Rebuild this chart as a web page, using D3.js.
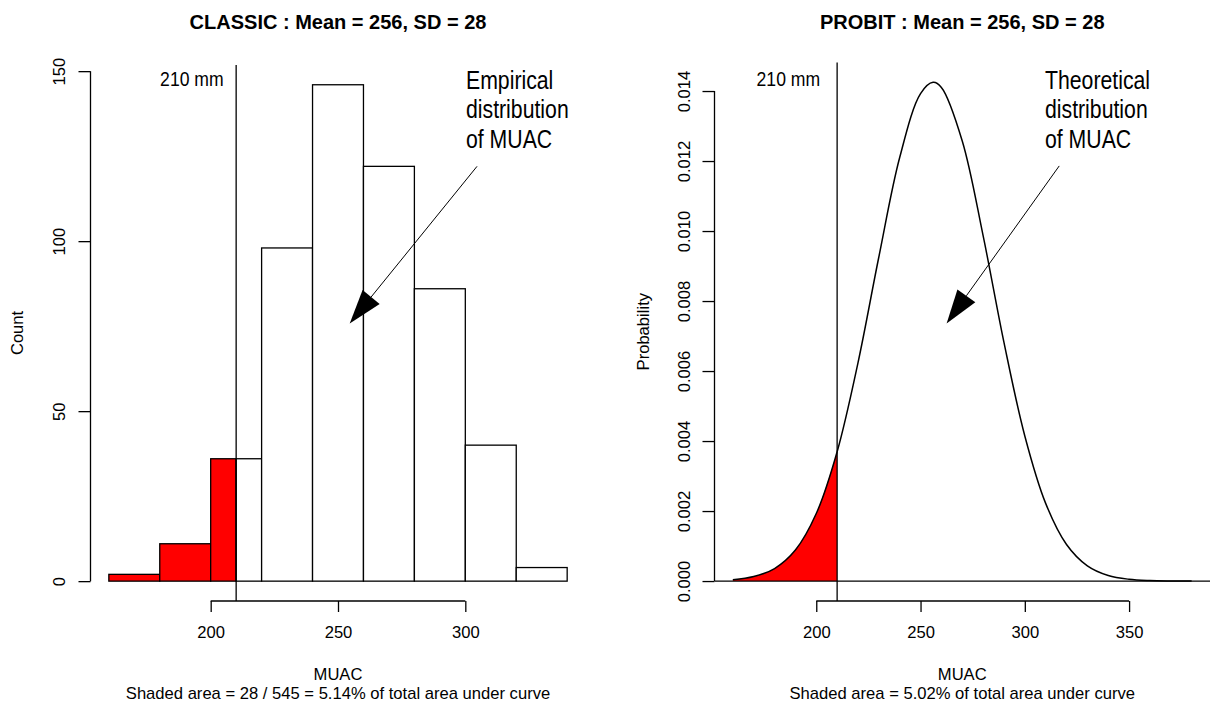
<!DOCTYPE html>
<html><head><meta charset="utf-8">
<script src="https://cdn.jsdelivr.net/npm/d3@7/dist/d3.min.js"></script>
<style>
body{margin:0;background:#fff}
svg text{font-family:"Liberation Sans", Arial, Helvetica, sans-serif; fill:#000}
</style></head><body>
<svg id="chart" width="1211" height="704"></svg>
<script>
// ---------- data ----------
const binEdges  = [160, 180, 200, 220, 240, 260, 280, 300, 320, 340];
const binCounts = [2, 11, 36, 98, 146, 122, 86, 40, 4];
const cutoff = 210;
const countTicks = [0, 50, 100, 150];
const muacTicksLeft = [200, 250, 300];

const densityX = [160, 170, 180, 190, 200, 210, 220, 230, 240, 250, 256, 260, 270, 280, 290, 300, 310, 320, 330, 340, 350, 360, 370, 380];
const densityY = [0.0000399, 0.0001274, 0.000358, 0.000886, 0.001928, 0.003695, 0.006235, 0.009258, 0.012102, 0.013925, 0.014248, 0.014103, 0.012574, 0.009868, 0.006817, 0.004145, 0.002219, 0.001045, 0.000434, 0.000158, 0.0000509, 0.0000144, 0.0000036, 0.0000008];
const probTicks = [0, 0.002, 0.004, 0.006, 0.008, 0.010, 0.012, 0.014];
const muacTicksRight = [200, 250, 300, 350];

const titles = ["CLASSIC : Mean = 256, SD = 28", "PROBIT : Mean = 256, SD = 28"];
const xLabel = "MUAC";
const yLabels = ["Count", "Probability"];
const subs = ["Shaded area = 28 / 545 = 5.14% of total area under curve", "Shaded area = 5.02% of total area under curve"];
const cutLabel = "210 mm";
const noteLines = [["Empirical", "distribution", "of MUAC"], ["Theoretical", "distribution", "of MUAC"]];

// ---------- layout ----------
const svg = d3.select("#chart");
const FS = 16.6;
const LW = 1.3;

function panel(cfg) {
  const g = svg.append("g");
  const x = d3.scaleLinear().domain(cfg.xDom).range([cfg.left, cfg.right]);
  const y = d3.scaleLinear().domain(cfg.yDom).range([cfg.bottom, cfg.top]);
  const cx = (cfg.left + cfg.right) / 2, cy = (cfg.top + cfg.bottom) / 2;

  cfg.draw(g, x, y);

  // cutoff vertical line
  g.append("line").attr("x1", x(cutoff)).attr("x2", x(cutoff))
    .attr("y1", cfg.top).attr("y2", cfg.bottom)
    .attr("stroke", "#000").attr("stroke-width", LW);

  // x axis
  const xa = g.append("g").attr("transform", `translate(0,${cfg.bottom})`)
    .call(d3.axisBottom(x).tickValues(cfg.xTicks).tickSize(11).tickSizeOuter(0).tickPadding(12));
  xa.select(".domain").remove();
  xa.selectAll(".tick line").attr("stroke-width", LW);
  xa.selectAll(".tick text").attr("font-size", FS).attr("dy", null).attr("y", 37)
    .style("font-family", '"Liberation Sans", Arial, sans-serif');
  xa.append("line").attr("x1", x(cfg.xTicks[0])).attr("x2", x(cfg.xTicks[cfg.xTicks.length - 1]))
    .attr("stroke", "#000").attr("stroke-width", LW);

  // y axis
  const ya = g.append("g").attr("transform", `translate(${cfg.left},0)`)
    .call(d3.axisLeft(y).tickValues(cfg.yTicks).tickSize(12).tickSizeOuter(0).tickFormat(cfg.yFmt));
  ya.select(".domain").remove();
  ya.selectAll(".tick line").attr("stroke-width", LW);
  ya.selectAll(".tick text").attr("font-size", FS).attr("x", 0).attr("dy", null)
    .attr("text-anchor", "middle").attr("dominant-baseline", "central")
    .attr("transform", `translate(${-cfg.yLabOff},0) rotate(-90)`)
    .style("font-family", '"Liberation Sans", Arial, sans-serif');
  ya.append("line").attr("y1", y(cfg.yTicks[0])).attr("y2", y(cfg.yTicks[cfg.yTicks.length - 1]))
    .attr("stroke", "#000").attr("stroke-width", LW);

  // title
  g.append("text").attr("x", cx).attr("y", 29).attr("text-anchor", "middle")
    .attr("font-size", 20).attr("font-weight", "bold").text(cfg.title);
  // x label & sub
  g.append("text").attr("x", cx).attr("y", 680).attr("text-anchor", "middle")
    .attr("font-size", FS).text(xLabel);
  g.append("text").attr("x", cx).attr("y", 699).attr("text-anchor", "middle")
    .attr("font-size", FS).text(cfg.sub);
  // y label
  g.append("text").attr("transform", `translate(${cfg.left - cfg.yTitleOff},${cy}) rotate(-90)`)
    .attr("text-anchor", "middle").attr("dominant-baseline", "central")
    .attr("font-size", FS).text(cfg.yLabel);

  // 210 mm label (condensed)
  g.append("text").attr("transform", `translate(${x(cutoff) - cfg.cutLabOff},86) scale(0.88,1)`)
    .attr("text-anchor", "end").attr("font-size", 20).text(cutLabel);

  // note text (condensed)
  const nt = g.append("text").attr("font-size", 25)
    .attr("transform", `translate(${cfg.noteX},0) scale(0.85,1)`);
  cfg.note.forEach((s, i) => {
    nt.append("tspan").attr("x", 0).attr("y", 89 + i * 29.5).text(s);
  });

  // arrow
  const x0 = x(cfg.arrow[0]), y0 = y(cfg.arrow[1]), x1 = x(cfg.arrow[2]), y1 = y(cfg.arrow[3]);
  const dx = x1 - x0, dy = y1 - y0, L = Math.hypot(dx, dy);
  const ux = dx / L, uy = dy / L, HL = 34, HW = 11;
  const bx = x1 - ux * HL, by = y1 - uy * HL;
  g.append("line").attr("x1", x0).attr("y1", y0).attr("x2", bx).attr("y2", by)
    .attr("stroke", "#000").attr("stroke-width", 1);
  g.append("path")
    .attr("d", `M${x1},${y1}L${bx - uy * HW},${by + ux * HW}L${bx + uy * HW},${by - ux * HW}Z`)
    .attr("fill", "#000");
}

// left: histogram
panel({
  left: 90.5, right: 585.5, top: 64.9, bottom: 601,
  xDom: [152.8, 347.2], yDom: [-5.84, 151.84],
  xTicks: muacTicksLeft, yTicks: countTicks, yFmt: d3.format("d"),
  yLabOff: 31, yTitleOff: 73,
  title: titles[0], sub: subs[0], yLabel: yLabels[0],
  cutLabOff: 12.5, note: noteLines[0], noteX: 466,
  arrow: [304.6, 122, 254.6, 75.8],
  draw(g, x, y) {
    const bins = binCounts.map((c, i) => ({ x0: binEdges[i], x1: binEdges[i + 1], c }));
    const pieces = [];
    bins.forEach(b => {
      if (b.x0 < cutoff && b.x1 > cutoff) {
        pieces.push({ x0: b.x0, x1: cutoff, c: b.c, red: true });
        pieces.push({ x0: cutoff, x1: b.x1, c: b.c, red: false });
      } else pieces.push({ x0: b.x0, x1: b.x1, c: b.c, red: b.x1 <= cutoff });
    });
    g.selectAll("rect.bar").data(pieces).join("rect").attr("class", "bar")
      .attr("x", d => x(d.x0)).attr("width", d => x(d.x1) - x(d.x0))
      .attr("y", d => y(d.c)).attr("height", d => y(0) - y(d.c))
      .attr("fill", d => d.red ? "#ff0000" : "#fff")
      .attr("stroke", "#000").attr("stroke-width", LW);
  }
});

// right: density
panel({
  left: 714.5, right: 1210, top: 62.4, bottom: 601,
  xDom: [151.2, 388.8], yDom: [-0.00057, 0.014818],
  xTicks: muacTicksRight, yTicks: probTicks, yFmt: d3.format(".3f"),
  yLabOff: 30, yTitleOff: 71,
  title: titles[1], sub: subs[1], yLabel: yLabels[1],
  cutLabOff: 17, note: noteLines[1], noteX: 1045,
  arrow: [316.5, 0.01186, 262.5, 0.00736],
  draw(g, x, y) {
    const pts = densityX.map((v, i) => [v, densityY[i]]);
    const shade = pts.filter(p => p[0] <= cutoff);
    g.append("path").datum(shade)
      .attr("d", d3.area().x(d => x(d[0])).y0(y(0)).y1(d => y(d[1])).curve(d3.curveCatmullRom))
      .attr("fill", "#ff0000");
    g.append("line").attr("x1", x.range()[0]).attr("x2", x.range()[1])
      .attr("y1", y(0)).attr("y2", y(0)).attr("stroke", "#000").attr("stroke-width", LW);
    g.append("path").datum(pts)
      .attr("d", d3.line().x(d => x(d[0])).y(d => y(d[1])).curve(d3.curveCatmullRom))
      .attr("fill", "none").attr("stroke", "#000").attr("stroke-width", 1.5);
  }
});
</script>
</body></html>
